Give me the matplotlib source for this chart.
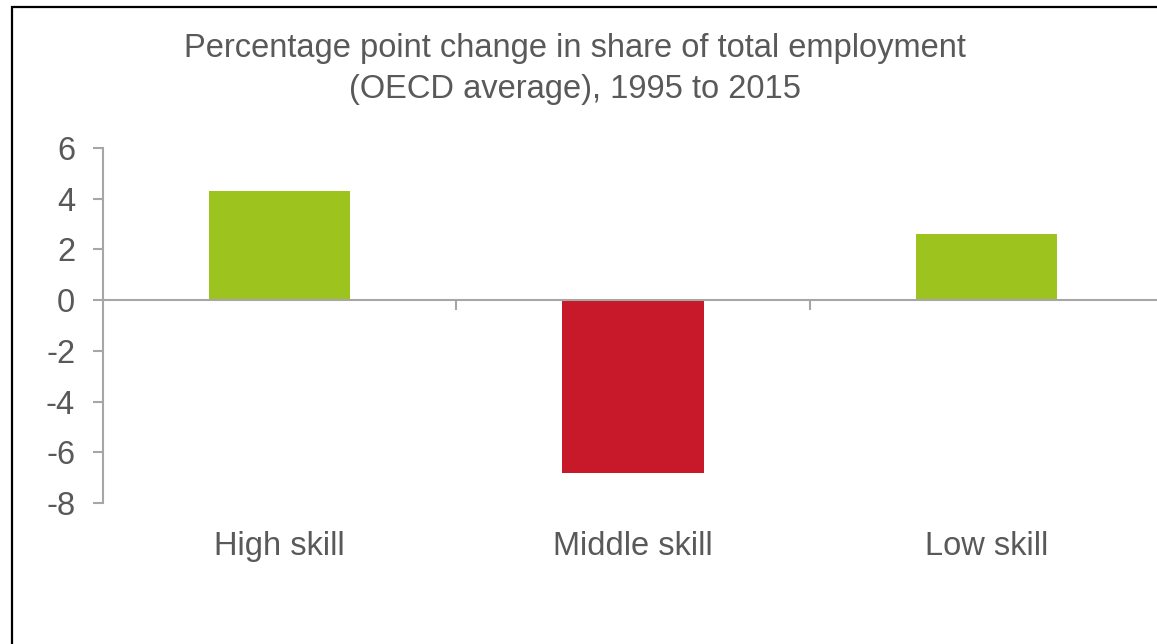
#!/usr/bin/env python3
"""Percentage point change in share of total employment, OECD average."""

import matplotlib
import numpy as np

matplotlib.use("Agg")
import matplotlib.pyplot as plt
from matplotlib.patches import Rectangle

categories = ["High skill", "Middle skill", "Low skill"]
change_pp = [4.3, -6.8, 2.6]
y_ticks = [6, 4, 2, 0, -2, -4, -6, -8]

GREEN = "#9dc41e"
RED = "#c8192a"
TEXT = "#595959"
AXIS = "#a6a6a6"

plt.rcParams["font.family"] = ["Liberation Sans", "DejaVu Sans"]
plt.rcParams["axes.unicode_minus"] = False


def main() -> None:
    fig = plt.figure(figsize=(11.57, 6.44), dpi=100)
    fig.patches.append(
        Rectangle((11.5 / 1157, -0.1), 1.2, 1.1 - 6.5 / 644, transform=fig.transFigure,
                  fill=False, edgecolor="black", linewidth=1.6)
    )
    ax = fig.add_axes([103 / 1157, 1 - 503 / 644, 1060 / 1157, 355 / 644])

    x = np.arange(len(categories))
    colors = [GREEN if v >= 0 else RED for v in change_pp]
    ax.bar(x, change_pp, width=0.4, color=colors, zorder=2)

    ax.set_xlim(-0.5, len(categories) - 0.5)
    ax.set_ylim(-8, 6)
    ax.set_yticks(y_ticks)
    ax.tick_params(axis="y", colors=AXIS, labelcolor=TEXT, labelsize=23.5,
                   length=7, width=1.5, pad=13)

    for side in ("top", "right"):
        ax.spines[side].set_visible(False)
    ax.spines["left"].set_color(AXIS)
    ax.spines["left"].set_linewidth(1.5)
    ax.spines["bottom"].set_position(("data", 0))
    ax.spines["bottom"].set_color(AXIS)
    ax.spines["bottom"].set_linewidth(1.5)
    ax.spines["bottom"].set_zorder(3)
    ax.set_xticks(x[:-1] + 0.5)
    ax.set_xticklabels([])
    ax.tick_params(axis="x", colors=AXIS, length=7, width=1.5)

    for xi, label in zip(x, categories):
        ax.annotate(label, (xi, -8), xytext=(0, -31.5), textcoords="offset points",
                    ha="center", va="center", fontsize=23.5, color=TEXT,
                    annotation_clip=False)

    fig.text(575 / 1157, 1 - 69 / 644,
             "Percentage point change in share of total employment\n"
             "(OECD average), 1995 to 2015",
             ha="center", va="center", fontsize=23.5, color=TEXT, linespacing=1.38)

    fig.savefig("out.png", dpi=100)
    plt.close(fig)


if __name__ == "__main__":
    main()
